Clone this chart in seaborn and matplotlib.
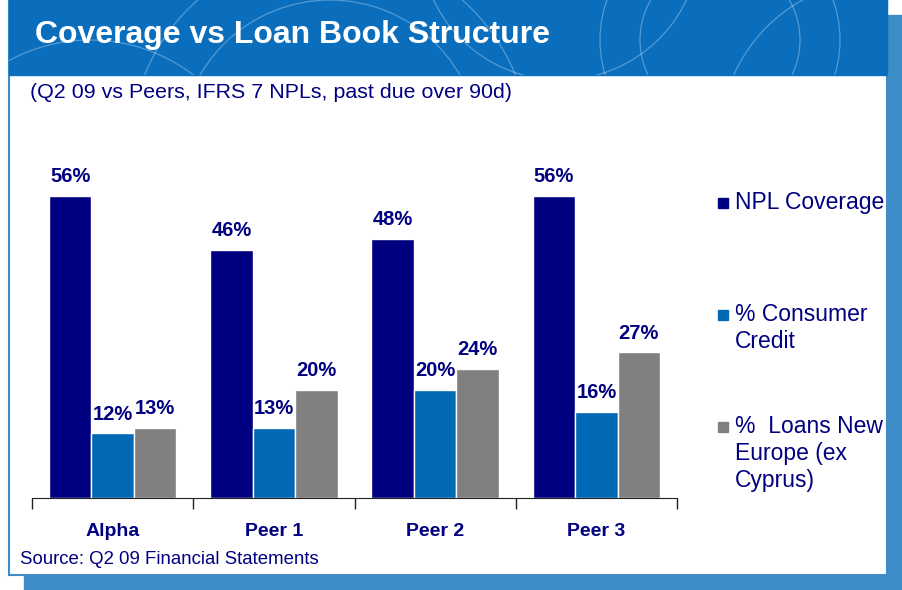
import pandas as pd
import matplotlib.pyplot as plt
import seaborn as sns
from matplotlib.patches import Rectangle, Circle

# chart data
banks = ["Alpha", "Peer 1", "Peer 2", "Peer 3"]
metrics = ["NPL Coverage", "% Consumer\nCredit", "%  Loans New\nEurope (ex\nCyprus)"]
npl_coverage = [56, 46, 48, 56]
consumer_credit = [12, 13, 20, 16]
loans_new_europe = [13, 20, 24, 27]
colors = ["#000080", "#0068B4", "#808080"]

NAVY = "#000080"
W, H = 903, 590

sns.set_style("white")
plt.rcParams["font.family"] = ["Liberation Sans", "DejaVu Sans"]

df = pd.DataFrame({
    "bank": banks * 3,
    "metric": [metrics[0]] * 4 + [metrics[1]] * 4 + [metrics[2]] * 4,
    "value": npl_coverage + consumer_credit + loans_new_europe,
})

fig = plt.figure(figsize=(W / 100, H / 100), dpi=100)

# background: slide frame, shadow and header banner (pixel coords)
bg = fig.add_axes([0, 0, 1, 1], zorder=0)
bg.set_xlim(0, W)
bg.set_ylim(H, 0)
bg.axis("off")
bg.add_patch(Rectangle((24, 15), W - 24, H - 15, color="#3E8CC8"))
bg.add_patch(Rectangle((9, 0), 878, 575, facecolor="white", edgecolor="#3E8CC8", lw=1.5))
banner = Rectangle((9, 0), 878, 75, color="#0A6EBD")
bg.add_patch(banner)
for cx, cy, r in [(330, 150, 200), (330, 150, 150), (720, 40, 120), (720, 40, 80),
                  (90, 210, 170), (560, -60, 140), (880, 140, 160)]:
    c = Circle((cx, cy), r, fill=False, ec="white", lw=0.9, alpha=0.3)
    bg.add_patch(c)
    c.set_clip_path(banner)
bg.text(35, 35, "Coverage vs Loan Book Structure", color="white", fontsize=23,
        fontweight="bold", va="center", ha="left")
bg.text(30, 92, "(Q2 09 vs Peers, IFRS 7 NPLs, past due over 90d)", color=NAVY,
        fontsize=15.4, va="center", ha="left")
bg.text(20, 560, "Source: Q2 09 Financial Statements", color=NAVY,
        fontsize=13.4, va="center", ha="left")

# legend drawn by hand to mimic the slide
legend_y = [203, 315, 427]
for y, col, lab in zip(legend_y, colors, metrics):
    bg.add_patch(Rectangle((718, y - 5), 10, 10, color=col))
    bg.text(735, y - 12, lab, color=NAVY, fontsize=16.5, va="top", ha="left",
            linespacing=1.22)

# bar chart
ax = fig.add_axes([32 / W, 1 - 498 / H, 645 / W, 358 / H], zorder=1)
ax.patch.set_alpha(0)
sns.barplot(data=df, x="bank", y="value", hue="metric", palette=colors,
            saturation=1, width=0.79, edgecolor="white", linewidth=1,
            legend=False, ax=ax)
ax.set_xlim(-0.5, 3.5)
ax.set_ylim(0, 66.4)
for cont in ax.containers:
    ax.bar_label(cont, labels=[f"{b.get_height():.0f}%" for b in cont], padding=7,
                 fontsize=14.5, fontweight="bold", color=NAVY)

sns.despine(ax=ax, left=True)
ax.spines["bottom"].set_color("#222222")
ax.set_yticks([])
ax.set_xlabel("")
ax.set_ylabel("")
ax.set_xticks([-0.5, 0.5, 1.5, 2.5, 3.5])
ax.set_xticklabels([])
ax.tick_params(axis="x", which="major", direction="out", length=8, width=1,
               color="#222222", bottom=True)
ax.set_xticks(range(len(banks)), minor=True)
ax.set_xticklabels(banks, minor=True, fontsize=14, fontweight="bold", color=NAVY)
ax.tick_params(axis="x", which="minor", length=0, pad=18)

fig.savefig("out.png", dpi=100)
